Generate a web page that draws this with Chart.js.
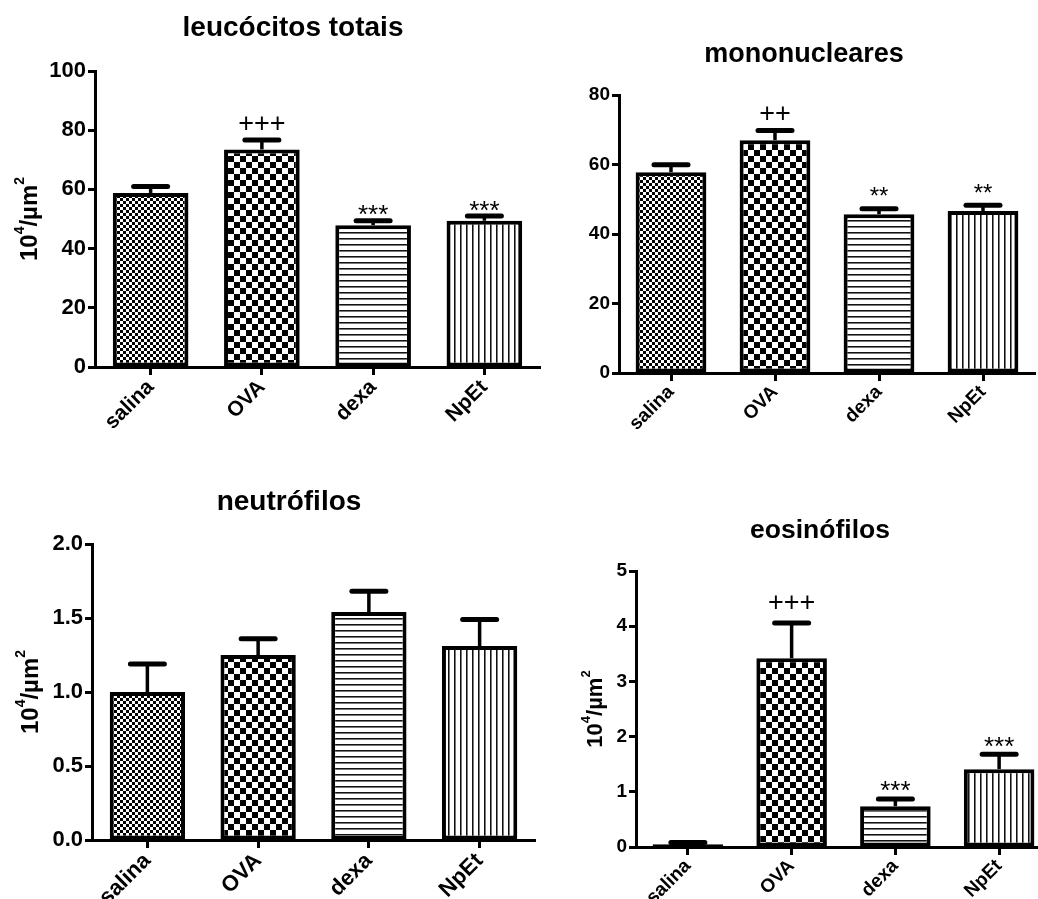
<!DOCTYPE html>
<html>
<head>
<meta charset="utf-8">
<script src="https://cdn.jsdelivr.net/npm/chart.js@4"></script>
<style>
  html, body { margin: 0; padding: 0; background: #fff; width: 1038px; height: 899px; overflow: hidden; position: relative; }
  canvas { position: absolute; }
</style>
</head>
<body>
<canvas id="leucocitos" width="545" height="440" style="left:0px;top:0px"></canvas>
<canvas id="mononucleares" width="520" height="440" style="left:520px;top:0px"></canvas>
<canvas id="neutrofilos" width="545" height="459" style="left:0px;top:440px"></canvas>
<canvas id="eosinofilos" width="540" height="459" style="left:520px;top:440px"></canvas>
<script>
// Groups shared by all four panels
const categories = ['salina', 'OVA', 'dexa', 'NpEt'];

// leucócitos totais (10^4/µm²): mean and SEM per group
const leucocitosMean = [58.8, 73.5, 47.9, 49.4];
const leucocitosSem = [2.2, 3.2, 1.5, 1.6];
const leucocitosMarks = ['', '+++', '***', '***'];
const leucocitosTicks = [0, 20, 40, 60, 80, 100];
const leucocitosTickLabels = ['0', '20', '40', '60', '80', '100'];

// mononucleares
const mononuclearesMean = [57.8, 67.0, 45.7, 46.6];
const mononuclearesSem = [2.1, 2.8, 1.6, 1.7];
const mononuclearesMarks = ['', '++', '**', '**'];
const mononuclearesTicks = [0, 20, 40, 60, 80];
const mononuclearesTickLabels = ['0', '20', '40', '60', '80'];

// neutrófilos
const neutrofilosMean = [1.0, 1.25, 1.54, 1.31];
const neutrofilosSem = [0.19, 0.11, 0.14, 0.18];
const neutrofilosMarks = ['', '', '', ''];
const neutrofilosTicks = [0, 0.5, 1.0, 1.5, 2.0];
const neutrofilosTickLabels = ['0.0', '0.5', '1.0', '1.5', '2.0'];

// eosinófilos
const eosinofilosMean = [0.05, 3.42, 0.74, 1.41];
const eosinofilosSem = [0.03, 0.64, 0.13, 0.27];
const eosinofilosMarks = ['', '+++', '***', '***'];
const eosinofilosTicks = [0, 1, 2, 3, 4, 5];
const eosinofilosTickLabels = ['0', '1', '2', '3', '4', '5'];

const FONT = "'Liberation Sans', Arial, Helvetica, sans-serif";

// Fill patterns for the four groups
function makePattern(ctx, kind) {
  const t = document.createElement('canvas');
  const g = t.getContext('2d');
  if (kind === 'fineCheck') {
    t.width = t.height = 6;
    g.fillStyle = '#fff'; g.fillRect(0, 0, 6, 6);
    g.fillStyle = '#000'; g.fillRect(0, 0, 3, 3); g.fillRect(3, 3, 3, 3);
  } else if (kind === 'coarseCheck') {
    t.width = t.height = 12;
    g.fillStyle = '#fff'; g.fillRect(0, 0, 12, 12);
    g.fillStyle = '#000'; g.fillRect(0, 0, 6, 6); g.fillRect(6, 6, 6, 6);
  } else if (kind === 'hLines') {
    t.width = 6; t.height = 6;
    g.fillStyle = '#fff'; g.fillRect(0, 0, 6, 6);
    g.fillStyle = '#111'; g.fillRect(0, 4, 6, 1);
    g.fillStyle = '#777'; g.fillRect(0, 5, 6, 1);
  } else {
    t.width = 6; t.height = 6;
    g.fillStyle = '#fff'; g.fillRect(0, 0, 6, 6);
    g.fillStyle = '#111'; g.fillRect(4, 0, 1, 6);
    g.fillStyle = '#777'; g.fillRect(5, 0, 1, 6);
  }
  return ctx.createPattern(t, 'repeat');
}

// Title, y-axis title, error bars and significance marks
const panelDecor = {
  id: 'panelDecor',
  afterDatasetsDraw(chart, args, p) {
    const ctx = chart.ctx;
    const ys = chart.scales.y;
    const meta = chart.getDatasetMeta(0);
    ctx.save();
    ctx.strokeStyle = '#000';
    ctx.fillStyle = '#000';
    meta.data.forEach((bar, i) => {
      const x = bar.x;
      const top = ys.getPixelForValue(p.means[i]);
      const capY = ys.getPixelForValue(p.means[i] + p.sem[i]);
      ctx.lineWidth = 3.5;
      ctx.lineCap = 'butt';
      ctx.beginPath(); ctx.moveTo(x, top); ctx.lineTo(x, capY); ctx.stroke();
      ctx.lineWidth = 5;
      ctx.lineCap = 'round';
      ctx.beginPath(); ctx.moveTo(x - 17, capY); ctx.lineTo(x + 17, capY); ctx.stroke();

      const mark = p.marks[i];
      if (mark) {
        const isPlus = mark[0] === '+';
        const size = isPlus ? p.plusSize : p.starSize;
        const gap = isPlus ? p.plusGap : p.starGap;
        ctx.font = `normal ${size}px ${FONT}`;
        ctx.textAlign = 'center';
        ctx.textBaseline = 'alphabetic';
        const m = ctx.measureText(mark);
        const base = capY - 2.5 - gap - m.actualBoundingBoxDescent;
        ctx.fillText(mark, x, base);
      }
    });
    ctx.restore();
  },
  afterDraw(chart, args, p) {
    const ctx = chart.ctx;
    ctx.save();
    ctx.fillStyle = '#000';
    ctx.font = `bold ${p.titleSize}px ${FONT}`;
    ctx.textAlign = 'center';
    ctx.textBaseline = 'alphabetic';
    ctx.fillText(p.title, p.titleX, p.titleY);

    if (p.yTitle) {
      const a = chart.chartArea;
      const cy = (a.top + a.bottom) / 2;
      const fs = p.yTitleSize;
      const sup = Math.round(fs * 0.6);
      const parts = [
        { t: '10', s: fs, r: 0 },
        { t: '4', s: sup, r: fs * 0.55 },
        { t: '/\u00b5m', s: fs, r: 0 },
        { t: '2', s: sup, r: fs * 0.55 }
      ];
      let total = 0;
      parts.forEach(q => { ctx.font = `bold ${q.s}px ${FONT}`; q.w = ctx.measureText(q.t).width; total += q.w; });
      ctx.translate(p.yTitleX, cy);
      ctx.rotate(-Math.PI / 2);
      ctx.textAlign = 'left';
      let x = -total / 2;
      parts.forEach(q => {
        ctx.font = `bold ${q.s}px ${FONT}`;
        ctx.fillText(q.t, x, -q.r);
        x += q.w;
      });
    }
    ctx.restore();
  }
};

function makePanel(id, means, sem, marks, ticks, tickLabels, look) {
  const canvas = document.getElementById(id);
  const ctx = canvas.getContext('2d');
  const fills = ['fineCheck', 'coarseCheck', 'hLines', 'vLines'].map(k => makePattern(ctx, k));
  return new Chart(ctx, {
    type: 'bar',
    data: {
      labels: categories,
      datasets: [{
        data: means,
        backgroundColor: fills,
        borderColor: '#000',
        borderWidth: 4,
        borderSkipped: false,
        barPercentage: 0.68,
        categoryPercentage: 1
      }]
    },
    options: {
      responsive: false,
      animation: false,
      devicePixelRatio: 1,
      layout: { padding: look.padding },
      plugins: {
        legend: { display: false },
        tooltip: { enabled: false },
        title: { display: false },
        panelDecor: {
          means, sem, marks,
          title: look.title, titleX: look.titleX, titleY: look.titleY, titleSize: look.titleSize,
          yTitle: look.yTitle, yTitleX: look.yTitleX, yTitleSize: look.yTitleSize,
          plusSize: look.plusSize, starSize: look.starSize, plusGap: look.plusGap, starGap: look.starGap
        }
      },
      scales: {
        x: {
          type: 'category',
          offset: true,
          border: { display: true, color: '#000', width: 3 },
          grid: { display: true, drawOnChartArea: false, drawTicks: true, tickLength: 8, tickWidth: 3, tickColor: '#000', offset: false },
          ticks: { color: '#000', font: { family: FONT, size: look.xFont, weight: 'bold' }, minRotation: 45, maxRotation: 45, autoSkip: false, padding: 0 },
          afterFit(s) { s.height = look.xHeight; s.paddingLeft = 0; s.paddingRight = 0; }
        },
        y: {
          type: 'linear',
          min: ticks[0],
          max: ticks[ticks.length - 1],
          border: { display: true, color: '#000', width: 3 },
          grid: { display: true, drawOnChartArea: false, drawTicks: true, tickLength: 7, tickWidth: 3, tickColor: '#000' },
          ticks: { color: '#000', font: { family: FONT, size: look.yFont, weight: 'bold' }, padding: 2, callback: (v, i) => tickLabels[i] },
          afterBuildTicks(s) { s.ticks = ticks.map(v => ({ value: v })); },
          afterFit(s) { s.width = look.yWidth; s.paddingTop = 0; s.paddingBottom = 0; }
        }
      }
    },
    plugins: [panelDecor]
  });
}

makePanel('leucocitos', leucocitosMean, leucocitosSem, leucocitosMarks, leucocitosTicks, leucocitosTickLabels, {
  padding: { top: 71, left: 0, right: 5, bottom: 0 }, yWidth: 95, xHeight: 73,
  title: 'leucócitos totais', titleX: 293, titleY: 36, titleSize: 28,
  yTitle: true, yTitleX: 37, yTitleSize: 24,
  xFont: 21, yFont: 22, plusSize: 27, starSize: 26, plusGap: 7, starGap: 3
});

makePanel('mononucleares', mononuclearesMean, mononuclearesSem, mononuclearesMarks, mononuclearesTicks, mononuclearesTickLabels, {
  padding: { top: 95, left: 0, right: 5, bottom: 0 }, yWidth: 99, xHeight: 67,
  title: 'mononucleares', titleX: 284, titleY: 62, titleSize: 27,
  yTitle: false,
  xFont: 19, yFont: 19, plusSize: 27, starSize: 24, plusGap: 8, starGap: 10
});

makePanel('neutrofilos', neutrofilosMean, neutrofilosSem, neutrofilosMarks, neutrofilosTicks, neutrofilosTickLabels, {
  padding: { top: 104, left: 0, right: 10, bottom: 0 }, yWidth: 92, xHeight: 59,
  title: 'neutrófilos', titleX: 289, titleY: 70, titleSize: 28,
  yTitle: true, yTitleX: 38, yTitleSize: 24,
  xFont: 22, yFont: 22, plusSize: 27, starSize: 26, plusGap: 7, starGap: 3
});

makePanel('eosinofilos', eosinofilosMean, eosinofilosSem, eosinofilosMarks, eosinofilosTicks, eosinofilosTickLabels, {
  padding: { top: 131, left: 0, right: 9, bottom: 0 }, yWidth: 116, xHeight: 52,
  title: 'eosinófilos', titleX: 300, titleY: 98, titleSize: 26.5,
  yTitle: true, yTitleX: 82, yTitleSize: 22,
  xFont: 19, yFont: 19, plusSize: 27, starSize: 26, plusGap: 11, starGap: 5
});
</script>
</body>
</html>
